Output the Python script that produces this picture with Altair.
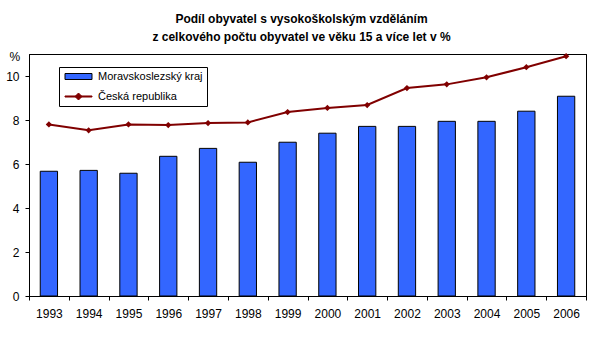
import altair as alt
import pandas as pd

years = ["1993", "1994", "1995", "1996", "1997", "1998", "1999",
         "2000", "2001", "2002", "2003", "2004", "2005", "2006"]
msk = [5.67, 5.71, 5.58, 6.35, 6.71, 6.08, 6.99, 7.40, 7.71, 7.71, 7.94, 7.94, 8.40, 9.08]
cr = [7.80, 7.53, 7.80, 7.77, 7.86, 7.89, 8.36, 8.55, 8.68, 9.45, 9.62, 9.94, 10.40, 10.90]
series_names = ["Moravskoslezský kraj", "Česká republika"]
title_lines = ["Podíl obyvatel s vysokoškolským vzděláním",
               "z celkového počtu obyvatel ve věku 15 a více let v %"]
y_ticks = [0, 2, 4, 6, 8, 10]

BLUE = "#3366FF"
RED = "#800000"
FONT = "Liberation Sans"

df_bar = pd.DataFrame({"year": years, "value": msk, "series": series_names[0]})
df_line = pd.DataFrame({"year": years, "value": cr, "series": series_names[1]})
df_all = pd.concat([df_bar, df_line], ignore_index=True)

BAR_SYMBOL = "M-1,-0.857H6.714V0.857H-1Z"
LINE_SYMBOL = "M-1,-0.15H6.714V0.15H-1Z M1.857,0L2.857,-1L3.857,0L2.857,1Z"

color_scale = alt.Scale(domain=series_names, range=[BLUE, RED])
stroke_scale = alt.Scale(domain=series_names, range=["black", RED])
shape_scale = alt.Scale(domain=series_names, range=[BAR_SYMBOL, LINE_SYMBOL])
x_scale = alt.Scale(paddingInner=0, paddingOuter=0)
y_scale = alt.Scale(domain=[0, 11], nice=False)

legend = alt.Legend(
    orient="none",
    legendX=30,
    legendY=13,
    strokeColor="black",
    fillColor="white",
    padding=4,
    symbolSize=49,
    symbolStrokeWidth=1,
    symbolOpacity=1,
    labelOffset=24,
    rowPadding=8,
    labelFont=FONT,
    labelFontSize=11,
    labelColor="black",
)

x_enc = alt.X(
    "year:N",
    sort=years,
    title=None,
    scale=x_scale,
    axis=alt.Axis(
        orient="bottom",
        tickBand="extent",
        tickSize=4,
        labelPadding=8,
        labelAngle=0,
        labelFont=FONT,
        labelFontSize=12,
        labelColor="black",
        domainColor="black",
        tickColor="black",
    ),
)
y_enc = alt.Y(
    "value:Q",
    title="%",
    scale=y_scale,
    axis=alt.Axis(
        orient="left",
        values=y_ticks,
        grid=False,
        tickSize=4,
        labelPadding=6,
        labelFont=FONT,
        labelFontSize=12,
        labelColor="black",
        domainColor="black",
        tickColor="black",
        titleAngle=0,
        titleAlign="left",
        titleBaseline="middle",
        titleX=-20,
        titleY=2,
        titleFont=FONT,
        titleFontSize=12,
        titleFontWeight="normal",
        titleColor="black",
    ),
)
x_plain = alt.X("year:N", sort=years, title=None, scale=x_scale, axis=None)
y_plain = alt.Y("value:Q", title=None, scale=y_scale, axis=None)

bars = alt.Chart(df_bar).mark_bar(
    width=alt.RelativeBandSize(0.435), stroke="black", strokeWidth=1, opacity=1
).encode(
    x=x_enc,
    y=y_enc,
    color=alt.Color("series:N", scale=color_scale, title=None, legend=legend),
)

# top and right border of the plot area, drawn as bare axis domains
frame = alt.Chart(df_bar).mark_point(opacity=0).encode(
    x=alt.X("year:N", sort=years, title=None, scale=x_scale,
            axis=alt.Axis(orient="top", labels=False, ticks=False, domain=True,
                          domainColor="black", grid=False, title=None)),
    y=alt.Y("value:Q", title=None, scale=y_scale,
            axis=alt.Axis(orient="right", labels=False, ticks=False, domain=True,
                          domainColor="black", grid=False, title=None)),
)

line = alt.Chart(df_line).mark_line(
    strokeWidth=2, color=RED,
    point=alt.OverlayMarkDef(shape="diamond", size=40, filled=True, color=RED, opacity=1),
).encode(
    x=x_plain,
    y=y_plain,
    detail="series:N",
)

legend_layer = alt.Chart(df_all).mark_point(
    filled=True, size=49, strokeWidth=1, fillOpacity=0, strokeOpacity=0
).encode(
    x=x_plain,
    y=y_plain,
    color=alt.Color("series:N", scale=color_scale, title=None, legend=legend),
    stroke=alt.Stroke("series:N", scale=stroke_scale, title=None, legend=legend),
    shape=alt.Shape("series:N", scale=shape_scale, title=None, legend=legend),
)

chart = alt.layer(bars, frame, line, legend_layer).resolve_axis(
    x="independent", y="independent"
).properties(
    width=557,
    height=242,
    background="white",
    view=alt.ViewBackground(stroke="black", strokeWidth=1),
    padding={"left": 5, "top": 13, "right": 5, "bottom": 5},
    title=alt.TitleParams(
        text=title_lines,
        font=FONT,
        fontSize=12,
        fontWeight="bold",
        color="black",
        anchor="middle",
        frame="group",
        offset=6,
        lineHeight=18,
        dx=-6,
    ),
)

chart.save("out.html", embed_options={"renderer": "svg", "actions": False})
